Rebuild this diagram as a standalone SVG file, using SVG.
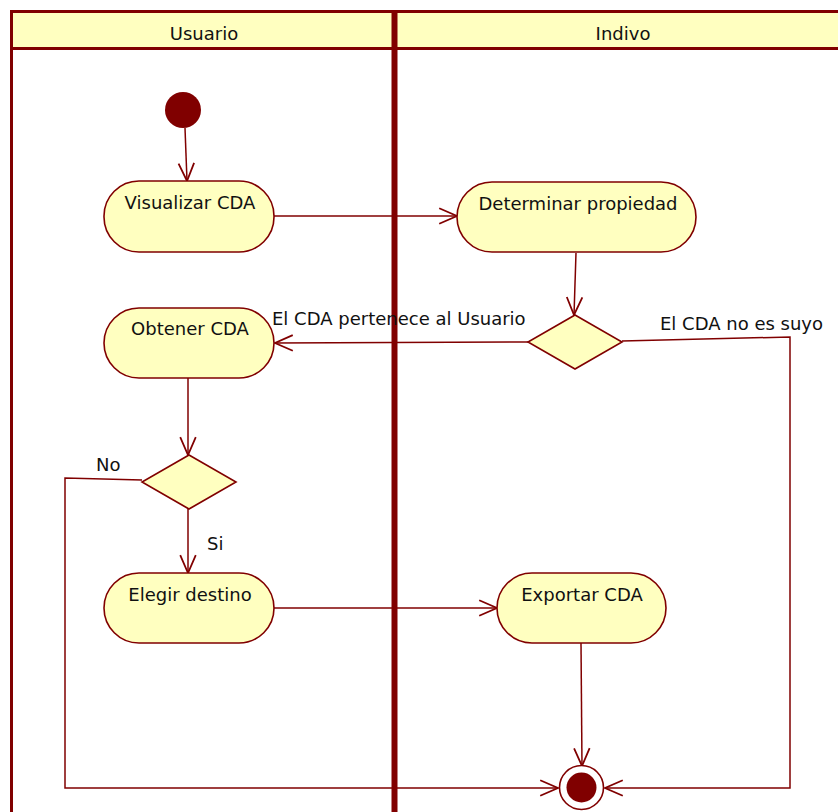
<svg xmlns="http://www.w3.org/2000/svg" width="838" height="812" viewBox="0 0 838 812">
  <style>
    .lane { fill: #FFFFC0; stroke: #800000; stroke-width: 3; }
    .node { fill: #FFFFC0; stroke: #800000; stroke-width: 1.6; }
    .edge { fill: none; stroke: #800000; stroke-width: 1.5; marker-end: url(#open); }
    .plain { fill: none; stroke: #800000; stroke-width: 1.5; }
    .t { font-family: "DejaVu Sans", Verdana, sans-serif; font-size: 18px; fill: #111; }
    .c { text-anchor: middle; }
  </style>
  <defs>
    <marker id="open" markerUnits="userSpaceOnUse" markerWidth="24" markerHeight="20" viewBox="-18 -9 20 18" refX="0" refY="0" orient="auto">
      <path d="M-16,-7 L0,0 L-16,7" fill="none" stroke="#800000" stroke-width="1.6"/>
    </marker>
  </defs>

  <rect width="838" height="812" fill="#ffffff"/>

  <!-- swimlanes -->
  <g id="lanes">
    <rect class="lane" x="11.5" y="11.5" width="850" height="37"/>
    <line x1="11.5" y1="10" x2="11.5" y2="812" stroke="#800000" stroke-width="3"/>
    <line x1="394.5" y1="10" x2="394.5" y2="812" stroke="#800000" stroke-width="6"/>
    <text class="t c" x="204" y="40">Usuario</text>
    <text class="t c" x="623" y="40">Indivo</text>
  </g>

  <!-- connectors -->
  <g id="connectors">
    <path class="edge" d="M185,128 L187,181"/>
    <path class="edge" d="M274,216 L457,216"/>
    <path class="edge" d="M576,253 L574,315"/>
    <path class="edge" d="M528,342 L275,343"/>
    <path class="edge" d="M622,341 L790,337 L790,788 L605,788"/>
    <path class="edge" d="M188,378 L188,455"/>
    <path class="edge" d="M142,480 L65,478 L65,788 L558,788"/>
    <path class="edge" d="M188,509 L188,573"/>
    <path class="edge" d="M274,608 L497,608"/>
    <path class="edge" d="M581,643 L582,766"/>
    <text class="t" x="272" y="325">El CDA pertenece al Usuario</text>
    <text class="t" x="660" y="330">El CDA no es suyo</text>
    <text class="t" x="96" y="471">No</text>
    <text class="t" x="207" y="550">Si</text>
  </g>

  <!-- nodes -->
  <g id="start">
    <circle cx="183" cy="110" r="18" fill="#800000"/>
  </g>
  <g id="visualizar">
    <rect class="node" x="104" y="181" width="170" height="71" rx="35"/>
    <text class="t c" x="190" y="209">Visualizar CDA</text>
  </g>
  <g id="determinar">
    <rect class="node" x="457" y="182" width="239" height="70" rx="35"/>
    <text class="t c" x="578" y="210">Determinar propiedad</text>
  </g>
  <g id="decision-propiedad">
    <polygon class="node" points="575,315 622,342 575,369 528,342"/>
  </g>
  <g id="obtener">
    <rect class="node" x="104" y="308" width="170" height="70" rx="35"/>
    <text class="t c" x="190" y="335">Obtener CDA</text>
  </g>
  <g id="decision-destino">
    <polygon class="node" points="189,455 236,482 189,509 142,482"/>
  </g>
  <g id="elegir">
    <rect class="node" x="104" y="573" width="170" height="70" rx="35"/>
    <text class="t c" x="190" y="601">Elegir destino</text>
  </g>
  <g id="exportar">
    <rect class="node" x="497" y="573" width="169" height="70" rx="35"/>
    <text class="t c" x="582" y="601">Exportar CDA</text>
  </g>
  <g id="end">
    <circle cx="581.5" cy="787.5" r="22" fill="#ffffff" stroke="#800000" stroke-width="1.6"/>
    <circle cx="581.5" cy="787.5" r="15" fill="#800000"/>
  </g>
</svg>
